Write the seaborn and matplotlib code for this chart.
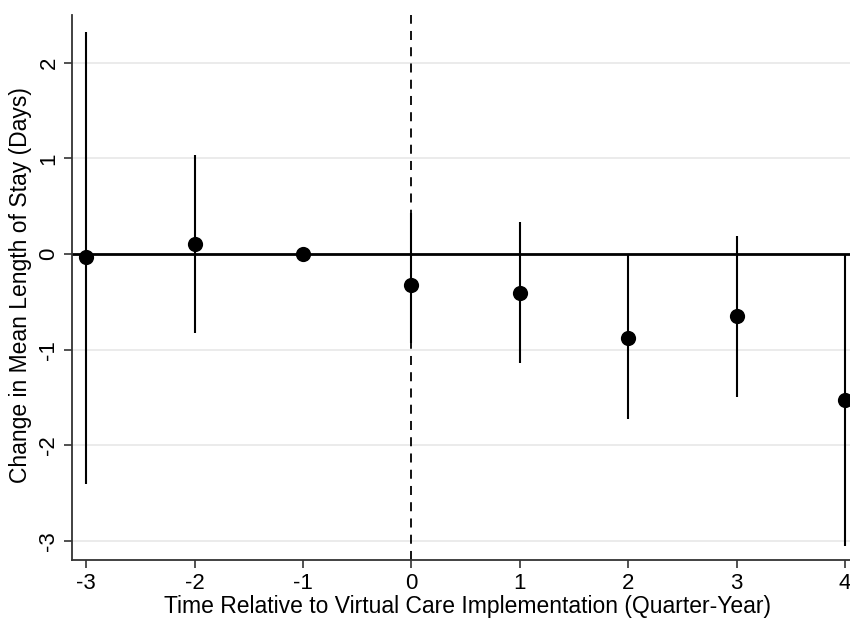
import numpy as np
import matplotlib
matplotlib.use("Agg")
import matplotlib.pyplot as plt
import seaborn as sns

# Event-study estimates (quarter relative to implementation)
periods = [-3, -2, -1, 0, 1, 2, 3, 4]
coef = [-0.03, 0.10, 0.0, -0.32, -0.41, -0.88, -0.65, -1.53]
ci_low = [-2.40, -0.83, np.nan, -0.93, -1.14, -1.73, -1.49, -3.05]
ci_high = [2.32, 1.04, np.nan, 0.43, 0.33, -0.01, 0.19, -0.01]
yticks = [-3, -2, -1, 0, 1, 2]

sns.set_style("white")
plt.rcParams["font.family"] = ["Liberation Sans", "DejaVu Sans"]
plt.rcParams["axes.unicode_minus"] = False
plt.rcParams["text.color"] = "black"
plt.rcParams["axes.labelcolor"] = "black"
plt.rcParams["xtick.color"] = "black"
plt.rcParams["ytick.color"] = "black"

fig = plt.figure(figsize=(8.5, 6.19), dpi=100)
ax = fig.add_axes([0.0847, 0.0953, 0.9153, 0.8805])

# grid + reference lines
for yv in yticks:
    ax.axhline(yv, color="#e8e8e8", lw=1.2, zorder=0)
ax.axhline(0, color="black", lw=2, zorder=1)
ax.axvline(0, color="black", lw=1.3, ls=(0, (5, 4)), zorder=1)

# confidence intervals
ax.vlines(periods, ci_low, ci_high, color="black", lw=1.5, zorder=2)
sns.scatterplot(x=periods, y=coef, color="black", s=120, edgecolor="black",
                linewidth=0, zorder=3, ax=ax)

ax.set_xlim(-3.13, 4.046)
ax.set_ylim(-3.2, 2.5)
ax.set_xticks(periods)
ax.set_yticks(yticks)
ax.tick_params(axis="both", direction="out", length=6, width=1.2,
               color="#333333", labelcolor="black", labelsize=16,
               bottom=True, left=True, pad=3)
for lab in ax.get_yticklabels():
    lab.set_rotation(90)
    lab.set_va("center")

for side in ["top", "right"]:
    ax.spines[side].set_visible(False)
for side in ["left", "bottom"]:
    ax.spines[side].set_color("#333333")
    ax.spines[side].set_linewidth(1.3)

ax.set_xlabel("Time Relative to Virtual Care Implementation (Quarter-Year)",
              fontsize=16.5, color="black")
ax.xaxis.set_label_coords(0.508, -0.064)
ax.set_ylabel("Change in Mean Length of Stay (Days)", fontsize=16.5,
              color="black")
ax.yaxis.set_label_coords(-0.052, 0.505)

fig.savefig("out.png", dpi=100)
